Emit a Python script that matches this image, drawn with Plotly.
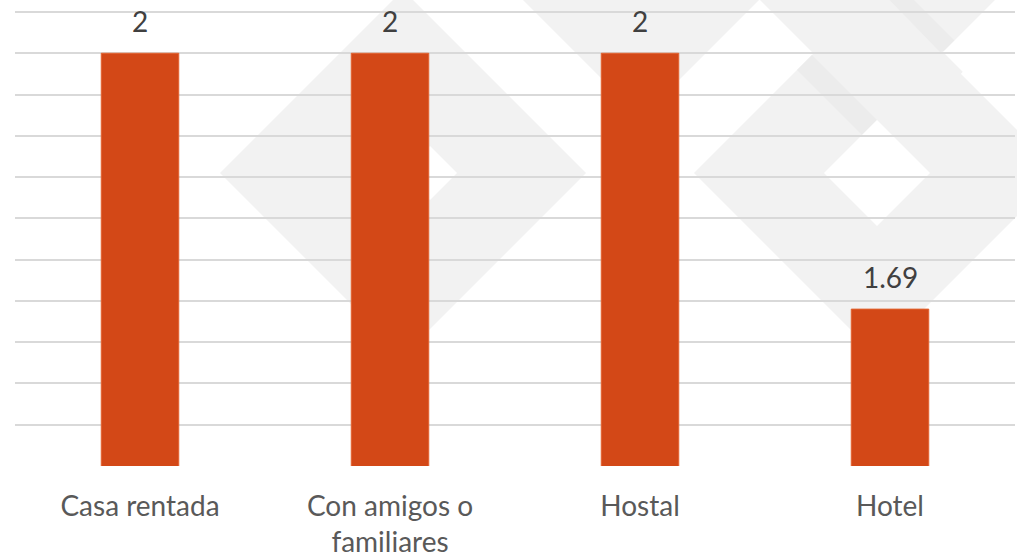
import plotly.graph_objects as go

categories = ["Casa rentada", "Con amigos o<br>familiares", "Hostal", "Hotel"]
values = [2, 2, 2, 1.69]
value_labels = ["2", "2", "2", "1.69"]

W, H = 1017, 560
ML, MR, MT, MB = 15, 2, 8, 94
PW = W - ML - MR
PH = H - MT - MB
PX_PER_UNIT = 454 / 0.55
Y_MIN = 1.5
Y_MAX = Y_MIN + PH / PX_PER_UNIT

def px(x, y):
    return (x - ML) / PW, (H - MB - y) / PH

def poly(points):
    pts = [px(x, y) for x, y in points]
    return "M " + " L ".join(f"{a:.5f},{b:.5f}" for a, b in pts) + " Z"

def diamond(cx, cy, h):
    return poly([(cx - h, cy), (cx, cy - h), (cx + h, cy), (cx, cy + h)])

GRAY = "#F2F2F2"
DARK = "#ECECEC"
WHITE = "#FFFFFF"

bg_shapes = [
    (diamond(403, 173, 183), GRAY),
    (diamond(430, 173, 27), WHITE),
    (diamond(641, -65, 183), GRAY),
    (poly([(740, -20), (835, 75), (960, 75), (1040, -20)]), GRAY),
    (diamond(877, 173, 183), GRAY),
    (poly([(812, 55), (877, 120), (862, 135), (797, 70)]), DARK),
    (poly([(878, -12), (902, -12), (960, 46), (940, 52)]), DARK),
    (diamond(877, 173, 53), WHITE),
    (diamond(1063, 52, 120), WHITE),
]

shapes = []
for path, col in bg_shapes:
    shapes.append(dict(type="path", path=path, xref="paper", yref="paper",
                       fillcolor=col, line=dict(width=0), layer="below"))

fig = go.Figure()
fig.add_trace(go.Bar(
    x=categories, y=values,
    marker=dict(color="#D34817", line=dict(color="#E2622F", width=1)),
    hoverinfo="skip",
))

annotations = []
for c, v, t in zip(categories, values, value_labels):
    annotations.append(dict(x=c, y=v, xref="x", yref="y", text=t, showarrow=False,
                            yanchor="bottom", yshift=13,
                            font=dict(family="Lato", size=28, color="#404040")))

fig.update_layout(
    width=W, height=H,
    margin=dict(l=ML, r=MR, t=MT, b=MB, autoexpand=False),
    paper_bgcolor="white",
    plot_bgcolor="rgba(0,0,0,0)",
    bargap=0.69,
    showlegend=False,
    shapes=shapes,
    annotations=annotations,
    xaxis=dict(showgrid=False, showline=False, ticks="", zeroline=False,
               tickfont=dict(family="Lato", size=28, color="#595959"),
               ticklabelstandoff=21, fixedrange=True, automargin=False),
    yaxis=dict(range=[Y_MIN - 0.0001, Y_MAX], dtick=0.05, tick0=1.5, showticklabels=False,
               showgrid=True, gridcolor="#D9D9D9", gridwidth=1.6,
               zeroline=False, showline=False, ticks="", fixedrange=True),
)

fig.write_html("out.html", config={"displayModeBar": False},
               post_script="document.body.style.margin='0';")
